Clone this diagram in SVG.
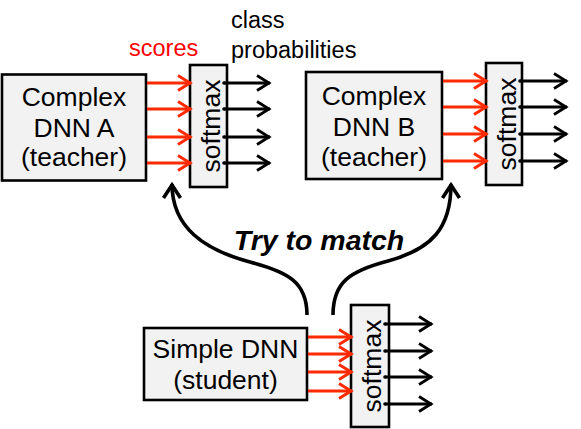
<svg xmlns="http://www.w3.org/2000/svg" width="581" height="429" viewBox="0 0 581 429">
<style>
.box{fill:#f2f2f2;stroke:#000;stroke-width:2.6}
.t{font-family:"Liberation Sans",Arial,sans-serif;font-size:26.5px;fill:#000}
.sm{font-family:"Liberation Sans",Arial,sans-serif;font-size:26.5px;fill:#000}
.lbl{font-family:"Liberation Sans",Arial,sans-serif;font-size:23.5px}
.red{stroke:#ff2a00;stroke-width:3;fill:none;marker-end:url(#ar)}
.blk{stroke:#000;stroke-width:2.8;fill:none;marker-end:url(#ab);marker-start:url(#dot)}
.cur{stroke:#000;stroke-width:3.6;fill:none;marker-end:url(#ac)}
</style>
<defs>
<marker id="ar" markerUnits="userSpaceOnUse" markerWidth="30" markerHeight="30" viewBox="-20 -15 30 30" refX="0" refY="0" orient="auto" overflow="visible">
<path d="M-13,-7.5 L-1,0 L-13,7.5" fill="none" stroke="#ff2a00" stroke-width="3"/>
</marker>
<marker id="ab" markerUnits="userSpaceOnUse" markerWidth="30" markerHeight="30" viewBox="-20 -15 30 30" refX="0" refY="0" orient="auto" overflow="visible">
<path d="M-13,-7.5 L-1,0 L-13,7.5" fill="none" stroke="#000" stroke-width="2.8"/>
</marker>
<marker id="dot" markerUnits="userSpaceOnUse" markerWidth="10" markerHeight="10" viewBox="-5 -5 10 10" refX="0" refY="0" overflow="visible">
<circle r="1.8" fill="#000"/>
</marker>
<marker id="ac" markerUnits="userSpaceOnUse" markerWidth="40" markerHeight="40" viewBox="-20 -20 40 40" refX="0" refY="0" orient="auto" overflow="visible">
<path d="M-14,-8.5 L-1,0 L-14,8.5" fill="none" stroke="#000" stroke-width="3.6"/>
</marker>
</defs>

<g id="teacherA">
<rect class="box" x="2" y="74.5" width="144" height="106"/>
<text class="t" text-anchor="middle" x="74" y="106">Complex</text>
<text class="t" text-anchor="middle" x="74" y="137">DNN A</text>
<text class="t" text-anchor="middle" x="74" y="166">(teacher)</text>
</g>
<g id="softmaxA">
<rect class="box" x="190" y="65" width="37" height="122"/>
<text class="sm" text-anchor="middle" transform="translate(220,126) rotate(-90)">softmax</text>
</g>

<g id="teacherB">
<rect class="box" x="306" y="72" width="136" height="107"/>
<text class="t" text-anchor="middle" x="374" y="105">Complex</text>
<text class="t" text-anchor="middle" x="374" y="136">DNN B</text>
<text class="t" text-anchor="middle" x="374" y="166">(teacher)</text>
</g>
<g id="softmaxB">
<rect class="box" x="486" y="63" width="36" height="122"/>
<text class="sm" text-anchor="middle" transform="translate(516,124) rotate(-90)">softmax</text>
</g>

<g id="student">
<rect class="box" x="144" y="328" width="163" height="72"/>
<text class="t" text-anchor="middle" x="225.5" y="358">Simple DNN</text>
<text class="t" text-anchor="middle" x="225.5" y="389">(student)</text>
</g>
<g id="softmaxS">
<rect class="box" x="351" y="305" width="38" height="122"/>
<text class="sm" text-anchor="middle" transform="translate(381,366) rotate(-90)">softmax</text>
</g>

<g id="labels">
<text class="lbl" x="129" y="56" fill="#ff0000">scores</text>
<text class="lbl" x="231" y="28" fill="#000">class</text>
<text class="lbl" x="231" y="58" fill="#000">probabilities</text>
<text x="319" y="250" text-anchor="middle" font-family="'Liberation Sans',Arial,sans-serif" font-size="28.5" font-weight="bold" font-style="italic" fill="#000">Try to match</text>
</g>

<g id="connectors">
<line class="red" x1="147" y1="83" x2="191" y2="83"/>
<line class="red" x1="147" y1="109" x2="191" y2="109"/>
<line class="red" x1="147" y1="137" x2="191" y2="137"/>
<line class="red" x1="147" y1="163" x2="191" y2="163"/>
<line class="blk" x1="224" y1="83" x2="270" y2="83"/>
<line class="blk" x1="224" y1="109" x2="270" y2="109"/>
<line class="blk" x1="224" y1="137" x2="270" y2="137"/>
<line class="blk" x1="224" y1="163" x2="270" y2="163"/>

<line class="red" x1="443" y1="81" x2="487" y2="81"/>
<line class="red" x1="443" y1="107" x2="487" y2="107"/>
<line class="red" x1="443" y1="134" x2="487" y2="134"/>
<line class="red" x1="443" y1="161" x2="487" y2="161"/>
<line class="blk" x1="520" y1="81" x2="567" y2="81"/>
<line class="blk" x1="520" y1="107" x2="567" y2="107"/>
<line class="blk" x1="520" y1="134" x2="567" y2="134"/>
<line class="blk" x1="520" y1="161" x2="567" y2="161"/>

<line class="red" x1="308" y1="337" x2="352" y2="337"/>
<line class="red" x1="308" y1="354" x2="352" y2="354"/>
<line class="red" x1="308" y1="372" x2="352" y2="372"/>
<line class="red" x1="308" y1="391" x2="352" y2="391"/>
<line class="blk" x1="385" y1="324" x2="432" y2="324"/>
<line class="blk" x1="385" y1="351" x2="432" y2="351"/>
<line class="blk" x1="385" y1="377" x2="432" y2="377"/>
<line class="blk" x1="385" y1="404" x2="432" y2="404"/>

<path class="cur" d="M307,315 C307,282 288,272 250,262 C205,250 172,228 172,184"/>
<path class="cur" d="M333,315 C333,282 350,271 388,261 C432,249 451,228 451,184"/>
</g>
</svg>
